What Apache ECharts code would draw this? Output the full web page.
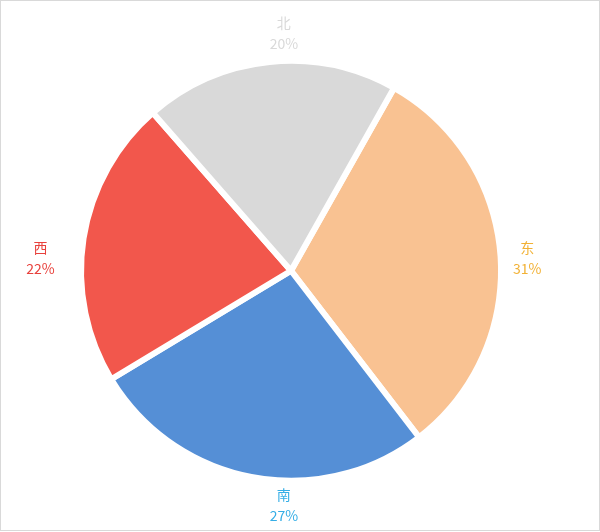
<!DOCTYPE html>
<html>
<head>
<meta charset="utf-8">
<script src="https://cdn.jsdelivr.net/npm/echarts@6/dist/echarts.min.js"></script>
<style>
html,body{margin:0;padding:0;background:#fff;}
#wrap{width:600px;height:531px;box-sizing:border-box;border:1px solid #d9d9d9;}
#main{width:598px;height:529px;}
</style>
</head>
<body>
<div id="wrap"><div id="main"></div></div>
<script>
const categories = ['东', '南', '西', '北'];
const values = [31.4, 26.8, 22.2, 19.6];
// compass direction of each label (degrees clockwise from top)
const labelDirections = [90, 180, 270, 0];
const sliceColors = ['#f9c292', '#558fd6', '#f2574c', '#d9d9d9'];
const labelColors = ['#f2b134', '#35aee6', '#e8413c', '#d9d9d9'];

const chart = echarts.init(document.getElementById('main'));
const W = chart.getWidth(), H = chart.getHeight();
const ringCx = W * 0.473, ringCy = H * 0.507, ringRx = W * 0.407, ringRy = H * 0.446;

chart.setOption({
  animation: false,
  series: [{
    type: 'pie',
    center: ['48.5%', '51%'],
    radius: 210,
    startAngle: 60.6,
    clockwise: true,
    avoidLabelOverlap: false,
    itemStyle: { borderColor: '#fff', borderWidth: 6 },
    label: {
      show: true,
      position: 'outside',
      fontFamily: 'Noto Sans CJK SC',
      fontSize: 14,
      lineHeight: 21,
      formatter: '{n|{b}}\n{n|{d}%}',
      rich: { n: { width: 36, align: 'center', fontSize: 14, lineHeight: 21, fontFamily: 'Noto Sans CJK SC' } }
    },
    labelLine: { show: false, length: 18, length2: 0 },
    percentPrecision: 0,
    labelLayout: function (p) {
      const a = labelDirections[p.dataIndex] * Math.PI / 180;
      return {
        x: ringCx + ringRx * Math.sin(a),
        y: ringCy - ringRy * Math.cos(a) - (Math.abs(Math.sin(a)) > 0.5 ? 11 : 0),
        align: 'center',
        verticalAlign: 'middle'
      };
    },
    data: categories.map((c, i) => ({
      name: c,
      value: values[i],
      itemStyle: { color: sliceColors[i] },
      label: { color: labelColors[i] }
    }))
  }]
});
</script>
</body>
</html>
